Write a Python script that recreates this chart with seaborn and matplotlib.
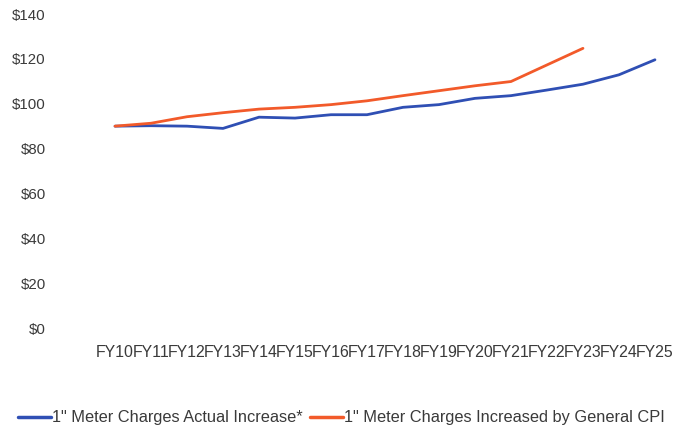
import matplotlib
matplotlib.use("Agg")
import matplotlib.pyplot as plt
import seaborn as sns
import pandas as pd

# fiscal years on the x axis
years = ["FY10", "FY11", "FY12", "FY13", "FY14", "FY15", "FY16", "FY17",
         "FY18", "FY19", "FY20", "FY21", "FY22", "FY23", "FY24", "FY25"]

actual = [90.0, 90.2, 90.0, 89.0, 94.0, 93.6, 95.1, 95.1,
          98.4, 99.6, 102.4, 103.6, 106.1, 108.7, 112.9, 119.6]

cpi = [90.0, 91.3, 94.2, 96.0, 97.6, 98.4, 99.6, 101.3,
       103.6, 105.8, 108.0, 109.9, 117.3, 124.7]

LBL_ACTUAL = '1" Meter Charges Actual Increase*'
LBL_CPI = '1" Meter Charges Increased by General CPI'

df = pd.concat([
    pd.DataFrame({"year": years, "value": actual, "series": LBL_ACTUAL}),
    pd.DataFrame({"year": years[:len(cpi)], "value": cpi, "series": LBL_CPI}),
])

sns.set_theme(style="white")
plt.rcParams["font.family"] = ["Liberation Sans", "DejaVu Sans"]

fig = plt.figure(figsize=(6.76, 4.30), dpi=100)
ax = fig.add_axes([0.1435, 0.2372, 0.852, 0.7302])

sns.lineplot(data=df, x="year", y="value", hue="series",
             palette={LBL_ACTUAL: "#2f4fb4", LBL_CPI: "#f25a2a"},
             linewidth=2.0, ax=ax, legend=False, sort=False)

ax.set_xlim(-0.5, len(years) - 0.5)
ax.set_ylim(0, 140)
ax.set_yticks(range(0, 141, 20))
ax.set_yticklabels([f"${v}" for v in range(0, 141, 20)])
ax.set_xlabel("")
ax.set_ylabel("")
ax.tick_params(axis="y", length=0, pad=37, labelsize=10.8, labelcolor="#3a3a3a")
ax.tick_params(axis="x", length=0, pad=12, labelsize=11.4, labelcolor="#3a3a3a")
sns.despine(ax=ax, left=True, bottom=True)

handles = [plt.Line2D([], [], color="#2f4fb4", lw=2.5),
           plt.Line2D([], [], color="#f25a2a", lw=2.5)]
fig.legend(handles, [LBL_ACTUAL, LBL_CPI], loc="center", bbox_to_anchor=(0.505, 0.028),
           ncol=2, frameon=False, handlelength=2.0, handletextpad=0.05,
           columnspacing=0.5, prop={"size": 11.8}, labelcolor="#3a3a3a",
           borderpad=0)

fig.savefig("out.png", dpi=100)
